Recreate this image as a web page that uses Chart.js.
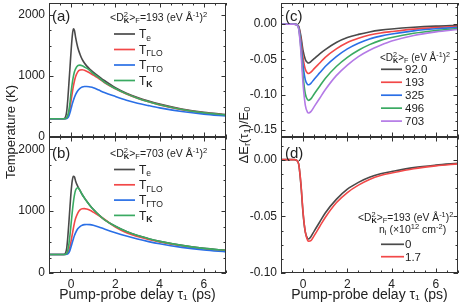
<!DOCTYPE html>
<html><head><meta charset="utf-8">
<script src="https://cdn.jsdelivr.net/npm/chart.js@4/dist/chart.umd.min.js"></script>
<style>
html,body{margin:0;padding:0;background:#fff;}
#wrap{position:relative;width:463px;height:305px;overflow:hidden;}
canvas{position:absolute;left:0;top:0;width:463px;height:305px;}
</style></head><body>
<div id="wrap">
<canvas id="pa" width="463" height="305"></canvas>
<canvas id="pb" width="463" height="305"></canvas>
<canvas id="pc" width="463" height="305"></canvas>
<canvas id="pd" width="463" height="305"></canvas>
</div>
<script>
// ---------------- DATA ----------------
// Panels (a),(b): temperatures (K) vs pump-probe delay (ps)
const tauT = [-1, -0.4, -0.3, -0.2, -0.15, -0.1, -0.05, 0, 0.05, 0.1, 0.15, 0.2, 0.3, 0.4, 0.5, 0.6, 0.7, 0.85, 1.0, 1.25, 1.5, 2, 2.5, 3, 3.5, 4, 5, 6, 7];

const aTe   = [300, 300, 305, 420, 620, 880, 1150, 1420, 1650, 1775, 1750, 1640, 1470, 1360, 1275, 1215, 1168, 1112, 1066, 996, 928, 808, 718, 648, 590, 540, 460, 405, 370];
const aTLO  = [300, 300, 300, 310, 335, 390, 480, 600, 720, 830, 920, 990, 1070, 1100, 1105, 1095, 1080, 1050, 1015, 960, 895, 790, 705, 635, 577, 527, 450, 396, 360];
const aTTO  = [300, 300, 300, 305, 315, 345, 400, 470, 540, 600, 650, 695, 760, 800, 822, 830, 830, 822, 810, 770, 730, 665, 605, 555, 515, 478, 418, 375, 345];
const aTK   = [300, 300, 300, 320, 360, 440, 570, 740, 880, 990, 1070, 1120, 1170, 1180, 1170, 1150, 1130, 1090, 1040, 975, 900, 795, 708, 638, 580, 530, 452, 398, 362];

const bTe   = [300, 300, 305, 400, 580, 820, 1080, 1320, 1490, 1565, 1555, 1490, 1400, 1335, 1270, 1215, 1165, 1093, 1030, 940, 865, 755, 670, 605, 555, 512, 447, 398, 368];
const bTLO  = [300, 300, 300, 310, 325, 365, 430, 520, 620, 720, 810, 880, 970, 1020, 1040, 1042, 1035, 1015, 985, 930, 870, 742, 650, 590, 543, 503, 440, 393, 362];
const bTTO  = [300, 300, 300, 303, 310, 330, 370, 430, 490, 550, 605, 650, 715, 752, 772, 782, 785, 782, 772, 745, 712, 652, 598, 550, 508, 472, 415, 373, 342];
const bTK   = [300, 300, 300, 320, 370, 470, 620, 800, 980, 1140, 1260, 1340, 1378, 1335, 1270, 1213, 1163, 1092, 1030, 940, 865, 755, 670, 605, 555, 512, 447, 398, 368];

// Panels (c),(d): ΔEr(τ1)/E0 vs pump-probe delay (ps)
const tauE = [-1, -0.4, -0.3, -0.2, -0.1, 0, 0.1, 0.2, 0.25, 0.35, 0.5, 0.75, 1, 1.5, 2, 2.5, 3, 3.5, 4, 5, 6, 7];

const cD92  = [0, 0, -0.0004, -0.003, -0.017, -0.038, -0.050, -0.0545, -0.055, -0.053, -0.049, -0.042, -0.036, -0.026, -0.019, -0.0145, -0.011, -0.0085, -0.0068, -0.0044, -0.0028, -0.0018];
const cD193 = [0, 0, -0.0005, -0.004, -0.022, -0.048, -0.064, -0.0695, -0.070, -0.068, -0.063, -0.055, -0.047, -0.035, -0.026, -0.020, -0.0155, -0.0125, -0.0105, -0.007, -0.0048, -0.0032];
const cD325 = [0, 0, -0.0006, -0.005, -0.027, -0.059, -0.079, -0.0855, -0.086, -0.084, -0.078, -0.069, -0.060, -0.046, -0.035, -0.027, -0.021, -0.017, -0.014, -0.0095, -0.0066, -0.0046];
const cD496 = [0, 0, -0.0008, -0.006, -0.034, -0.074, -0.099, -0.107, -0.108, -0.106, -0.099, -0.088, -0.077, -0.060, -0.047, -0.037, -0.029, -0.023, -0.019, -0.013, -0.009, -0.0063];
const cD703 = [0, 0, -0.0009, -0.007, -0.039, -0.086, -0.115, -0.125, -0.126, -0.124, -0.117, -0.105, -0.093, -0.073, -0.058, -0.046, -0.037, -0.030, -0.024, -0.016, -0.011, -0.0075];

const dN0   = [0, 0, -0.0005, -0.004, -0.022, -0.048, -0.064, -0.0695, -0.070, -0.068, -0.063, -0.055, -0.047, -0.035, -0.026, -0.020, -0.0155, -0.0125, -0.0105, -0.007, -0.0048, -0.0032];
const dN17  = [0, 0, -0.0005, -0.004, -0.021, -0.047, -0.064, -0.071, -0.072, -0.0715, -0.067, -0.059, -0.051, -0.038, -0.029, -0.0225, -0.0175, -0.014, -0.0118, -0.008, -0.0055, -0.0037];

// Tick labels
const xTickVals = [0, 2, 4, 6];
const tTickVals = [0, 1000, 2000];
const cTickVals = [-0.15, -0.10, -0.05, 0.00];
const dTickVals = [-0.10, -0.05, 0.00];

// Legend labels
const cLegend = ['92.0', '193', '325', '496', '703'];
const dLegend = ['0', '1.7'];

// ---------------- STYLE ----------------
const FAM = "'Liberation Sans', Arial, Helvetica, sans-serif";
const TXT = '#222';
const AX = '#333';
const C_BLACK = '#4a4a4a', C_RED = '#f24848', C_BLUE = '#2a6fe6', C_GREEN = '#3aaa62', C_PURPLE = '#b47ae6';

Chart.defaults.font.family = FAM;
Chart.defaults.color = TXT;

function fnt(sz, bold){ return (bold ? 'bold ' : '') + sz + 'px ' + FAM; }

// rich text: parts = [text, kind] with kind n/sub/sup/bsub, or {stack:[sup,sub], bold}
function drawRich(ctx, parts, x, y, size, align){
  ctx.save();
  ctx.textBaseline = 'alphabetic'; ctx.textAlign = 'left'; ctx.fillStyle = TXT;
  const small = size * 0.72;
  const items = []; let total = 0;
  for (const p of parts){
    if (p.stack){
      ctx.font = fnt(small, false); const w1 = ctx.measureText(p.stack[0]).width;
      ctx.font = fnt(small, !!p.bold); const w2 = ctx.measureText(p.stack[1]).width;
      const w = Math.max(w1, w2);
      items.push({stack: p.stack, bold: p.bold, w}); total += w;
    } else {
      const kind = p[1] || 'n'; const bold = kind === 'bsub';
      const sz = kind === 'n' ? size : small;
      ctx.font = fnt(sz, bold); const w = ctx.measureText(p[0]).width;
      items.push({t: p[0], kind, sz, bold, w}); total += w;
    }
  }
  let cx = align === 'center' ? x - total / 2 : x;
  for (const it of items){
    if (it.stack){
      ctx.font = fnt(small, false); ctx.fillText(it.stack[0], cx, y - size * 0.40);
      ctx.font = fnt(small, !!it.bold); ctx.fillText(it.stack[1], cx, y + size * 0.22);
    } else {
      ctx.font = fnt(it.sz, it.bold);
      const dy = it.kind === 'sup' ? -size * 0.40 : (it.kind === 'sub' || it.kind === 'bsub') ? size * 0.22 : 0;
      ctx.fillText(it.t, cx, y + dy);
    }
    cx += it.w;
  }
  ctx.restore();
}

const D2K = [['<D'], {stack: ['2', 'K'], bold: true}, ['>'], ['F', 'sub']];
const nameTe  = [['T'], ['e', 'sub']];
const nameTLO = [['T'], ['ΓLO', 'sub']];
const nameTTO = [['T'], ['ΓTO', 'sub']];
const nameTK  = [['T'], ['K', 'bsub']];

// frame + inward ticks on all four sides
function framePlugin(xMinor, yMinor, yMajor){
  return {
    id: 'frameTicks',
    afterDatasetsDraw(chart){
      const {ctx, chartArea: a, scales: {x, y}} = chart;
      ctx.save();
      ctx.strokeStyle = AX; ctx.lineWidth = 1;
      ctx.strokeRect(a.left + 0.5, a.top + 0.5, a.right - a.left - 1, a.bottom - a.top - 1);
      ctx.beginPath();
      const xs = Math.ceil(x.min / xMinor - 1e-9);
      for (let k = xs; k * xMinor <= x.max + 1e-9; k++){
        const v = k * xMinor; const p = Math.round(x.getPixelForValue(v)) + 0.5;
        const major = Math.abs(v / 2 - Math.round(v / 2)) < 1e-6;
        const L = major ? 4.5 : 2.5;
        ctx.moveTo(p, a.bottom); ctx.lineTo(p, a.bottom - L);
        ctx.moveTo(p, a.top); ctx.lineTo(p, a.top + L);
      }
      const ys = Math.ceil(y.min / yMinor - 1e-9);
      for (let k = ys; k * yMinor <= y.max + 1e-9; k++){
        const v = k * yMinor; const p = Math.round(y.getPixelForValue(v)) + 0.5;
        const major = Math.abs(v / yMajor - Math.round(v / yMajor)) < 1e-6;
        const L = major ? 4.5 : 2.5;
        ctx.moveTo(a.left, p); ctx.lineTo(a.left + L, p);
        ctx.moveTo(a.right, p); ctx.lineTo(a.right - L, p);
      }
      ctx.stroke();
      ctx.restore();
    }
  };
}

function overlayPlugin(drawFn){
  return { id: 'overlay', afterDraw(chart){ drawFn(chart.ctx, chart); } };
}

function legendRows(ctx, rows, x1, x2, tx, y0, dy, size){
  rows.forEach((r, i) => {
    const y = y0 + i * dy;
    ctx.save(); ctx.strokeStyle = r.color; ctx.lineWidth = 1.7;
    ctx.beginPath(); ctx.moveTo(x1, y); ctx.lineTo(x2, y); ctx.stroke(); ctx.restore();
    drawRich(ctx, r.name, tx, y + size * 0.36, size);
  });
}

function series(tau, vals, color, order){
  return {
    data: tau.map((t, i) => ({x: t, y: vals[i]})),
    borderColor: color, backgroundColor: color, borderWidth: 1.6,
    pointRadius: 0, fill: false, cubicInterpolationMode: 'monotone', order
  };
}

function makePanel(id, o){
  const zeroPad = s => { s.paddingLeft = 0; s.paddingRight = 0; s.paddingTop = 0; s.paddingBottom = 0; };
  return new Chart(document.getElementById(id), {
    type: 'line',
    data: {datasets: o.datasets},
    options: {
      responsive: false, animation: false, devicePixelRatio: 1,
      layout: {padding: o.padding, autoPadding: false},
      plugins: {legend: {display: false}, tooltip: {enabled: false}, title: {display: false}},
      scales: {
        x: {
          type: 'linear', min: -1, max: 7,
          afterBuildTicks: s => { s.ticks = xTickVals.map(v => ({value: v})); },
          ticks: {display: o.showX, padding: 4, font: {size: 12}, color: TXT, autoSkip: false, maxRotation: 0,
                  callback: v => String(v)},
          grid: {display: false, drawTicks: false}, border: {display: false},
          title: {display: o.showX, text: 'Pump-probe delay τ₁ (ps)', font: {size: 14}, color: TXT,
                  padding: {top: 0, bottom: 1}},
          afterFit: s => { s.height = o.xH; zeroPad(s); }
        },
        y: {
          type: 'linear', min: o.ymin, max: o.ymax,
          afterBuildTicks: s => { s.ticks = o.yTicks.map(v => ({value: v})); },
          ticks: {padding: 4, font: {size: 12}, color: TXT, autoSkip: false, callback: o.yFmt},
          grid: {display: false, drawTicks: false}, border: {display: false},
          afterFit: s => { s.width = o.yW; zeroPad(s); }
        }
      }
    },
    plugins: [framePlugin(0.5, o.yMinor, o.yMajor), overlayPlugin(o.overlay)]
  });
}

const fmtT = v => String(v);
const fmtE = v => Number(v).toFixed(2);

function panelLabel(ctx, t, x, y){
  ctx.save(); ctx.font = fnt(15, false); ctx.fillStyle = TXT; ctx.textBaseline = 'alphabetic';
  ctx.fillText(t, x, y); ctx.restore();
}

const rowsAB = () => [
  {name: nameTe, color: C_BLACK}, {name: nameTLO, color: C_RED},
  {name: nameTTO, color: C_BLUE}, {name: nameTK, color: C_GREEN}];

// (a)
makePanel('pa', {
  padding: {left: 0, top: 3, right: 237, bottom: 168}, yW: 49, xH: 0, showX: false,
  ymin: 0, ymax: 2200, yTicks: tTickVals, yFmt: fmtT, yMinor: 250, yMajor: 1000,
  datasets: [series(tauT, aTe, C_BLACK, 4), series(tauT, aTLO, C_RED, 3), series(tauT, aTTO, C_BLUE, 2), series(tauT, aTK, C_GREEN, 1)],
  overlay: (ctx) => {
    panelLabel(ctx, '(a)', 52, 21);
    drawRich(ctx, D2K.concat([['=193 (eV Å'], ['-1', 'sup'], [')'], ['2', 'sup']]), 110, 21, 10.5);
    legendRows(ctx, rowsAB(), 114, 135, 139, 34, 15.5, 12);
    ctx.save(); ctx.translate(11, 132); ctx.rotate(-Math.PI / 2);
    ctx.font = fnt(13, false); ctx.fillStyle = TXT; ctx.textAlign = 'center'; ctx.textBaseline = 'middle';
    ctx.fillText('Temperature (K)', 0, 0); ctx.restore();
  }
});

// (b)
makePanel('pb', {
  padding: {left: 0, top: 137, right: 237, bottom: 0}, yW: 49, xH: 32, showX: true,
  ymin: 0, ymax: 2200, yTicks: tTickVals, yFmt: fmtT, yMinor: 250, yMajor: 1000,
  datasets: [series(tauT, bTe, C_BLACK, 4), series(tauT, bTLO, C_RED, 3), series(tauT, bTTO, C_BLUE, 2), series(tauT, bTK, C_GREEN, 1)],
  overlay: (ctx) => {
    panelLabel(ctx, '(b)', 52, 158);
    drawRich(ctx, D2K.concat([['=703 (eV Å'], ['-1', 'sup'], [')'], ['2', 'sup']]), 110, 157, 10.5);
    legendRows(ctx, rowsAB(), 114, 135, 139, 169.5, 15.3, 12);
  }
});

// (c)
makePanel('pc', {
  padding: {left: 241, top: 3, right: 5, bottom: 168}, yW: 40, xH: 0, showX: false,
  ymin: -0.16, ymax: 0.03, yTicks: cTickVals, yFmt: fmtE, yMinor: 0.0125, yMajor: 0.05,
  datasets: [series(tauE, cD92, C_BLACK, 5), series(tauE, cD193, C_RED, 4), series(tauE, cD325, C_BLUE, 3),
             series(tauE, cD496, C_GREEN, 2), series(tauE, cD703, C_PURPLE, 1)],
  overlay: (ctx) => {
    panelLabel(ctx, '(c)', 285, 21);
    drawRich(ctx, D2K.concat([[' (eV Å'], ['-1', 'sup'], [')'], ['2', 'sup']]), 380, 61, 10);
    const cols = [C_BLACK, C_RED, C_BLUE, C_GREEN, C_PURPLE];
    legendRows(ctx, cLegend.map((t, i) => ({name: [[t]], color: cols[i]})), 381, 402, 405, 69.3, 12.95, 11.5);
    ctx.save(); ctx.translate(243, 135); ctx.rotate(-Math.PI / 2);
    drawRich(ctx, [['ΔE'], ['r', 'sub'], ['(τ'], ['1', 'sub'], [')/E'], ['0', 'sub']], 0, 4.5, 13, 'center');
    ctx.restore();
  }
});

// (d)
makePanel('pd', {
  padding: {left: 241, top: 137, right: 5, bottom: 0}, yW: 40, xH: 32, showX: true,
  ymin: -0.10, ymax: 0.02, yTicks: dTickVals, yFmt: fmtE, yMinor: 0.0125, yMajor: 0.05,
  datasets: [series(tauE, dN0, C_BLACK, 2), series(tauE, dN17, C_RED, 1)],
  overlay: (ctx) => {
    panelLabel(ctx, '(d)', 285, 158);
    drawRich(ctx, D2K.concat([['=193 (eV Å'], ['-1', 'sup'], [')'], ['2', 'sup']]), 358, 221, 10.3);
    drawRich(ctx, [['n'], ['i', 'sub'], [' (×10'], ['12', 'sup'], [' cm'], ['-2', 'sup'], [')']], 379, 233, 10.5);
    legendRows(ctx, dLegend.map((t, i) => ({name: [[t]], color: [C_BLACK, C_RED][i]})), 381, 404, 405, 244.3, 12.4, 11.5);
  }
});
</script>
</body></html>
